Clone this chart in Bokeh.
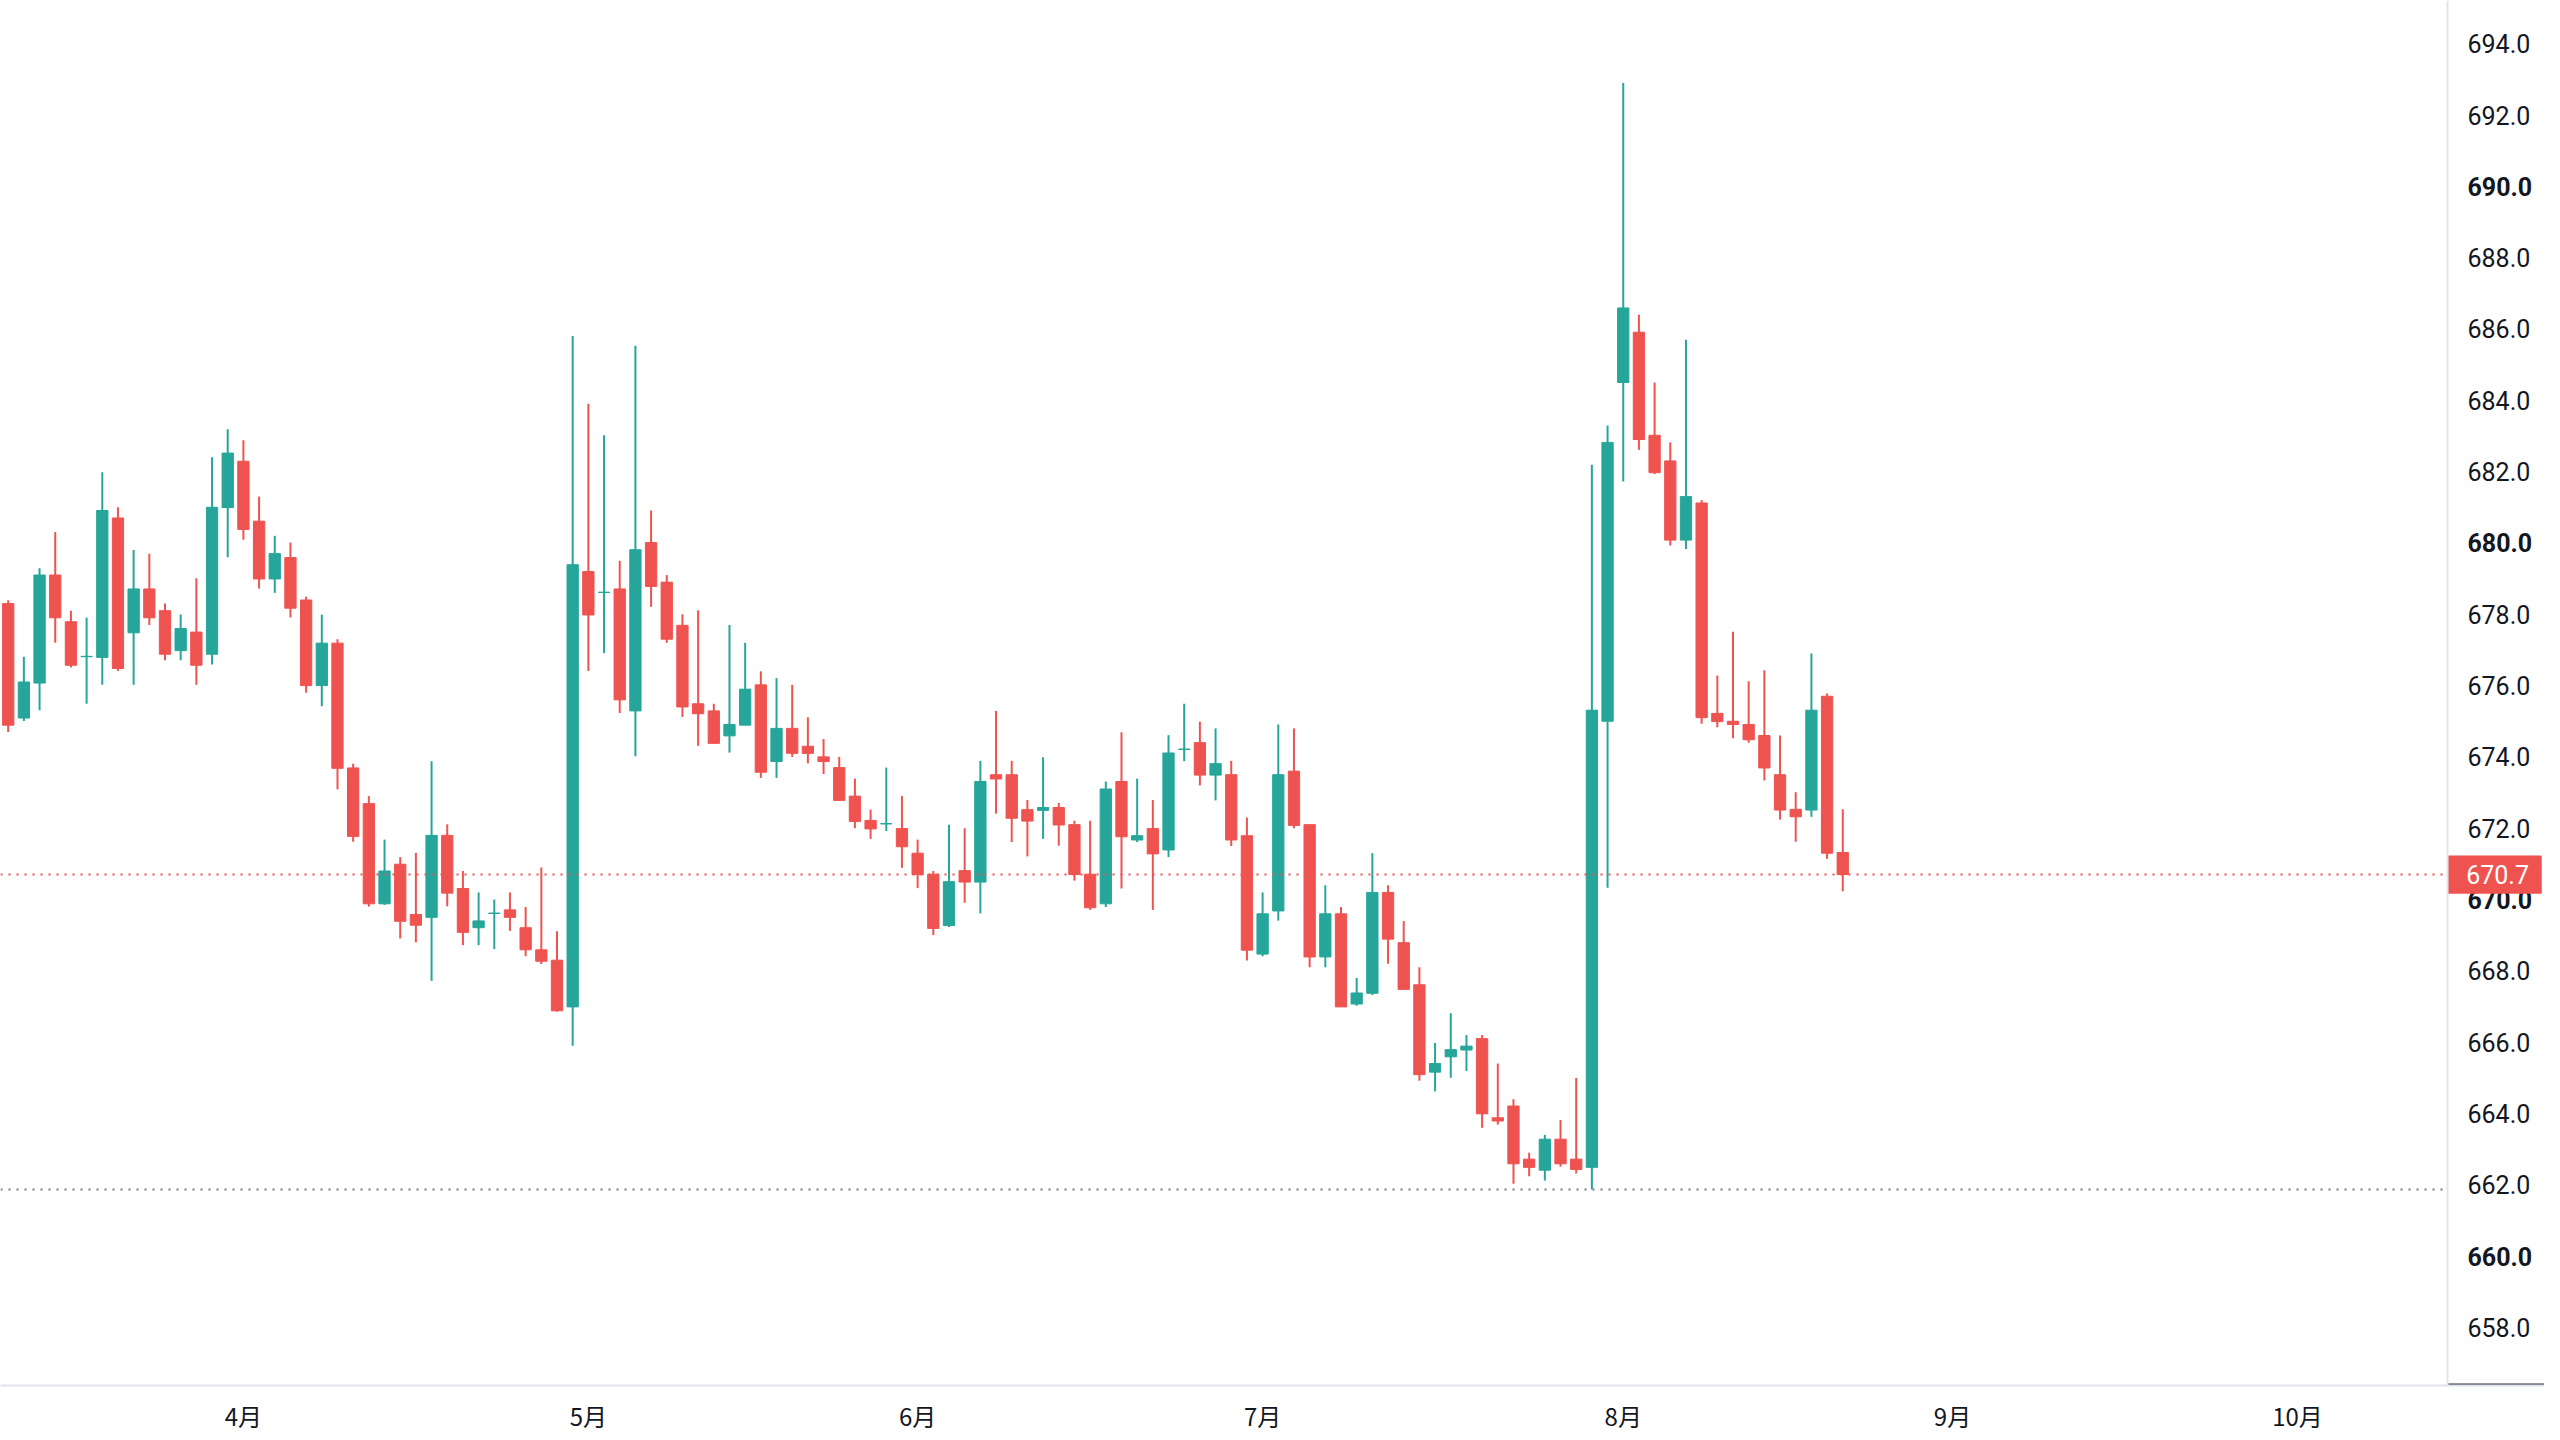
from bokeh.plotting import figure
from bokeh.models import ColumnDataSource, Range1d, FixedTicker, Span
from bokeh.core.properties import value
from bokeh.embed import file_html
from bokeh.resources import INLINE

# ---- data (daily OHLC) ----
opens = [678.30, 675.09, 676.07, 679.10, 677.79, 676.81, 676.79, 680.70, 677.48, 678.71,
         678.10, 676.98, 677.50, 676.88, 680.99, 682.29, 680.61, 678.99, 679.59, 678.40,
         676.00, 677.19, 673.69, 672.69, 669.88, 670.99, 669.58, 669.50, 671.80, 670.31,
         669.21, 669.61, 669.71, 669.21, 668.59, 668.30, 666.99, 679.20, 678.61, 678.71,
         675.29, 680.01, 678.90, 677.69, 675.49, 675.29, 674.59, 674.89, 676.02, 673.87,
         674.80, 674.30, 674.00, 673.70, 672.90, 672.22, 672.12, 671.99, 671.30, 670.71,
         669.27, 670.81, 670.49, 673.50, 673.50, 672.52, 672.50, 672.58, 672.10, 670.71,
         669.88, 673.31, 671.67, 671.99, 671.39, 674.21, 674.40, 673.49, 673.50, 671.79,
         668.47, 669.68, 673.60, 672.10, 668.39, 669.60, 667.07, 667.37, 670.20, 668.79,
         667.61, 665.16, 665.59, 665.78, 666.10, 663.88, 664.21, 662.72, 662.41, 663.28,
         662.72, 662.49, 675.00, 684.50, 685.91, 683.02, 682.30, 680.08, 681.12, 675.22,
         675.00, 674.91, 674.60, 673.50, 672.53, 672.51, 675.70, 671.32]
highs = [678.39, 676.81, 679.29, 680.31, 678.10, 677.90, 681.98, 681.00, 679.80, 679.70,
         678.30, 677.99, 679.01, 682.40, 683.19, 682.88, 681.30, 680.20, 680.01, 678.49,
         677.99, 677.30, 673.81, 672.90, 671.68, 671.19, 671.31, 673.88, 672.11, 670.80,
         670.20, 670.00, 670.20, 669.79, 670.90, 669.11, 685.80, 683.90, 683.02, 679.50,
         685.53, 680.91, 679.10, 678.00, 678.11, 675.49, 677.70, 677.20, 676.40, 676.21,
         676.02, 675.11, 674.50, 674.00, 673.39, 672.52, 673.70, 672.90, 671.68, 670.80,
         672.10, 672.00, 673.89, 675.29, 673.89, 672.79, 673.99, 672.71, 672.21, 672.21,
         673.31, 674.69, 673.39, 672.79, 674.61, 675.49, 674.99, 674.80, 673.89, 672.30,
         670.20, 674.91, 674.80, 672.10, 670.40, 669.79, 667.80, 671.30, 670.40, 669.40,
         668.10, 665.98, 666.81, 666.20, 666.20, 665.40, 664.40, 662.90, 663.40, 663.82,
         665.00, 682.19, 683.29, 692.90, 686.40, 684.50, 682.82, 685.70, 681.20, 676.28,
         677.51, 676.12, 676.43, 674.60, 673.01, 676.90, 675.78, 672.53]
lows = [674.70, 675.01, 675.31, 677.20, 676.51, 675.49, 676.02, 676.41, 676.02, 677.70,
        676.71, 676.71, 676.02, 676.59, 679.60, 680.09, 678.72, 678.60, 677.91, 675.80,
        675.42, 673.09, 671.62, 669.80, 669.85, 668.91, 668.80, 667.72, 669.81, 668.72,
        668.72, 668.61, 669.12, 668.41, 668.19, 666.85, 665.90, 676.41, 676.91, 675.23,
        674.02, 678.21, 677.20, 675.12, 674.31, 674.38, 674.12, 674.89, 673.41, 673.41,
        674.00, 673.82, 673.52, 672.78, 672.00, 671.70, 671.92, 670.89, 670.32, 669.00,
        669.23, 669.91, 669.61, 672.41, 671.61, 671.21, 671.70, 671.51, 670.53, 669.71,
        669.79, 670.31, 671.61, 669.71, 671.19, 673.88, 673.20, 672.78, 671.50, 668.29,
        668.41, 669.41, 672.00, 668.10, 668.10, 666.99, 667.02, 667.32, 668.20, 667.48,
        664.92, 664.62, 665.00, 665.19, 663.60, 663.69, 662.03, 662.24, 662.12, 662.51,
        662.32, 661.87, 670.33, 681.72, 682.61, 681.93, 679.93, 679.83, 674.93, 674.83,
        674.52, 674.40, 673.34, 672.24, 671.62, 672.32, 671.14, 670.23]
closes = [674.89, 676.10, 679.10, 677.90, 676.57, 676.82, 680.91, 676.48, 678.71, 677.90,
          676.88, 677.60, 676.57, 681.00, 682.52, 680.38, 678.99, 679.70, 678.17, 676.00,
          677.19, 673.68, 671.77, 669.88, 670.80, 669.39, 669.28, 671.80, 670.18, 669.08,
          669.40, 669.62, 669.50, 668.59, 668.27, 666.88, 679.39, 677.98, 678.62, 675.60,
          679.81, 678.78, 677.30, 675.40, 675.21, 674.38, 674.91, 675.90, 673.57, 674.80,
          674.10, 674.10, 673.87, 672.78, 672.19, 671.98, 672.13, 671.48, 670.70, 669.19,
          670.50, 670.49, 673.31, 673.38, 672.28, 672.20, 672.58, 672.09, 670.70, 669.77,
          673.10, 671.76, 671.79, 671.28, 674.11, 674.22, 673.49, 673.81, 671.67, 668.58,
          669.60, 673.50, 672.08, 668.39, 669.60, 666.99, 667.38, 670.20, 668.89, 667.48,
          665.09, 665.40, 665.79, 665.89, 663.99, 663.79, 662.59, 662.49, 663.28, 662.59,
          662.43, 675.31, 682.82, 686.59, 682.90, 681.97, 680.08, 681.30, 675.10, 674.99,
          674.91, 674.48, 673.69, 672.51, 672.32, 675.31, 671.30, 670.70]

month_labels = ["4月", "5月", "6月", "7月", "8月", "9月", "10月"]
month_first_bar = [15, 37, 58, 80, 103, 124, 146]
price_ticks = [658, 662, 664, 666, 668, 672, 674, 676, 678,
               682, 684, 686, 688, 692, 694]
bold_ticks = [660, 670, 680, 690]

UP = "#26a69a"
DOWN = "#ef5350"
TXT = "#131722"
SEP = "#e0e3eb"

# layout constants (pixels -> data)
PX_PER_BAR = 15.68
PX_PER_UNIT = 35.66
X0 = -7.7 / PX_PER_BAR              # left edge of the chart
X_SEP = (2447 - 7.7) / PX_PER_BAR   # price-scale separator
X1 = (2544 - 7.7) / PX_PER_BAR      # right edge of the canvas
Y1 = 694 + 43.2 / PX_PER_UNIT
Y0 = Y1 - 1385 / PX_PER_UNIT
X_LAB = (2467 - 7.7) / PX_PER_BAR

idx = list(range(len(opens)))
colors = [UP if c >= o else DOWN for o, c in zip(opens, closes)]
tops = [max(o, c) for o, c in zip(opens, closes)]
bots = [min(o, c) for o, c in zip(opens, closes)]
src = ColumnDataSource(dict(x=idx, open=opens, high=highs, low=lows, close=closes,
                            top=tops, bottom=bots, color=colors))

p = figure(frame_width=2544, frame_height=1385,
           x_range=Range1d(X0, X1), y_range=Range1d(Y0, Y1),
           y_axis_location=None, toolbar_location=None, output_backend="svg",
           min_border_left=0, min_border_top=0, min_border_right=0, min_border_bottom=39)
p.outline_line_color = None
p.background_fill_color = "white"
p.border_fill_color = "white"
p.xgrid.visible = False
p.ygrid.visible = False

p.segment(x0="x", y0="low", x1="x", y1="high", line_color="color", line_width=2, source=src)
p.vbar(x="x", top="top", bottom="bottom", width=0.72, fill_color="color",
       line_color="color", line_width=1, source=src)

last_price = closes[-1]
period_low = min(lows)
p.segment(x0=[X0], x1=[X_SEP], y0=[last_price], y1=[last_price], line_color=DOWN,
          line_width=2, line_dash="2 6")
p.segment(x0=[X0], x1=[X_SEP], y0=[period_low], y1=[period_low], line_color="#787b86",
          line_width=2, line_dash="2 6")

# price scale separator
p.add_layout(Span(location=X_SEP, dimension="height", line_color=SEP, line_width=2))
p.segment(x0=[X_SEP], x1=[X1], y0=[Y0 + 0.03], y1=[Y0 + 0.03], line_color="#2a2e39", line_width=2)

# price scale labels
p.text(x=[X_LAB] * len(price_ticks), y=price_ticks, text=[f"{t:.1f}" for t in price_ticks],
       text_font=value("Roboto"), text_font_size="25px", text_color=TXT,
       text_align="left", text_baseline="middle")
p.text(x=[X_LAB] * len(bold_ticks), y=bold_ticks, text=[f"{t:.1f}" for t in bold_ticks],
       text_font=value("Roboto"), text_font_size="25px", text_font_style="bold",
       text_color=TXT, text_align="left", text_baseline="middle")

# last price tag
box_half = 18.6 / PX_PER_UNIT
p.quad(left=[X_SEP + 0.05], right=[(2540.7 - 7.7) / PX_PER_BAR],
       top=[last_price + box_half], bottom=[last_price - box_half],
       fill_color=DOWN, line_color=DOWN)
p.text(x=[(2465.7 - 7.7) / PX_PER_BAR], y=[last_price], text=[f"{last_price:.1f}"],
       text_font=value("Roboto"), text_font_size="25px", text_color="white",
       text_align="left", text_baseline="middle")

# x axis (months)
xa = p.xaxis[0]
xa.ticker = FixedTicker(ticks=month_first_bar)
xa.major_label_overrides = {t: lab for t, lab in zip(month_first_bar, month_labels)}
xa.major_tick_line_color = None
xa.minor_tick_line_color = None
xa.axis_line_color = SEP
xa.axis_line_width = 2
xa.major_label_standoff = 6
xa.major_label_text_font = "Noto Sans CJK SC"
xa.major_label_text_font_size = "24px"
xa.major_label_text_color = TXT

open("out.html", "w").write(file_html(p, INLINE))
